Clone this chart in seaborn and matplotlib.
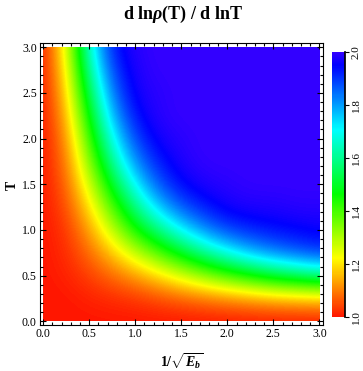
import matplotlib
matplotlib.use("Agg")
import matplotlib.pyplot as plt
import numpy as np
import seaborn as sns
from matplotlib.colors import ListedColormap, hsv_to_rgb
from matplotlib.patches import Rectangle
from matplotlib.ticker import MultipleLocator, FormatStrFormatter

# grid: x = 1/sqrt(E_b), T
x_vals = [0.0, 0.25, 0.5, 0.75, 1.0, 1.25, 1.5, 1.75, 2.0, 2.25, 2.5, 2.75, 3.0]
t_vals = [0.0, 0.25, 0.5, 0.75, 1.0, 1.25, 1.5, 1.75, 2.0, 2.25, 2.5, 2.75, 3.0]

# d ln rho / d ln T, one row per T (bottom to top), one column per x
slope = [
    [1.00, 1.00, 1.00, 1.00, 1.00, 1.00, 1.00, 1.00, 1.00, 1.00, 1.00, 1.00, 1.00],
    [1.00, 1.00, 1.01, 1.02, 1.03, 1.05, 1.07, 1.09, 1.11, 1.13, 1.15, 1.16, 1.17],
    [1.00, 1.01, 1.04, 1.08, 1.13, 1.19, 1.26, 1.33, 1.40, 1.46, 1.52, 1.56, 1.60],
    [1.00, 1.02, 1.08, 1.17, 1.28, 1.39, 1.50, 1.61, 1.70, 1.78, 1.83, 1.87, 1.90],
    [1.00, 1.03, 1.13, 1.28, 1.45, 1.59, 1.72, 1.82, 1.89, 1.92, 1.94, 1.95, 1.96],
    [1.00, 1.05, 1.19, 1.39, 1.59, 1.76, 1.87, 1.93, 1.97, 1.98, 1.98, 1.99, 1.99],
    [1.00, 1.07, 1.26, 1.50, 1.72, 1.87, 1.95, 1.98, 1.99, 2.00, 2.00, 2.00, 2.00],
    [1.00, 1.09, 1.33, 1.61, 1.82, 1.93, 1.98, 2.00, 2.00, 2.00, 2.00, 2.00, 2.00],
    [1.00, 1.11, 1.40, 1.70, 1.89, 1.97, 1.99, 2.00, 2.00, 2.00, 2.00, 2.00, 2.00],
    [1.00, 1.14, 1.47, 1.78, 1.94, 1.99, 2.00, 2.00, 2.00, 2.00, 2.00, 2.00, 2.00],
    [1.00, 1.17, 1.54, 1.84, 1.97, 1.99, 2.00, 2.00, 2.00, 2.00, 2.00, 2.00, 2.00],
    [1.00, 1.20, 1.61, 1.89, 1.98, 2.00, 2.00, 2.00, 2.00, 2.00, 2.00, 2.00, 2.00],
    [1.00, 1.23, 1.67, 1.93, 1.99, 2.00, 2.00, 2.00, 2.00, 2.00, 2.00, 2.00, 2.00],
]

cbar_ticks = [1.0, 1.2, 1.4, 1.6, 1.8, 2.0]

sns.set_theme(style="ticks")
plt.rcParams["font.family"] = ["Liberation Serif", "DejaVu Serif"]
plt.rcParams["mathtext.fontset"] = "custom"
plt.rcParams["mathtext.rm"] = "Liberation Serif:bold"
plt.rcParams["mathtext.it"] = "Liberation Serif:italic:bold"
plt.rcParams["mathtext.bf"] = "Liberation Serif:bold"
for key in ["text.color", "axes.labelcolor", "xtick.color", "ytick.color",
            "axes.edgecolor"]:
    plt.rcParams[key] = "black"

# hue running red -> yellow -> green -> cyan -> blue
hues = np.linspace(0.015, 0.7, 256)
hsv = np.stack([hues, np.ones_like(hues), np.ones_like(hues)], axis=1)
cmap = ListedColormap(hsv_to_rgb(hsv))

fig = plt.figure(figsize=(3.63, 3.71), dpi=100)
ax = fig.add_axes([0.109, 0.124, 0.781, 0.761])

dx = (x_vals[1] - x_vals[0]) / 2
dt = (t_vals[1] - t_vals[0]) / 2
im = ax.imshow(
    np.array(slope),
    origin="lower",
    extent=[x_vals[0] - dx, x_vals[-1] + dx, t_vals[0] - dt, t_vals[-1] + dt],
    cmap=cmap,
    vmin=1.0,
    vmax=2.0,
    interpolation="bicubic",
    interpolation_stage="data",
    aspect="auto",
)
im.set_clip_path(Rectangle((x_vals[0], t_vals[0]), x_vals[-1] - x_vals[0],
                           t_vals[-1] - t_vals[0], transform=ax.transData))

ax.set_xlim(-0.04, 3.04)
ax.set_ylim(-0.04, 3.05)
ax.xaxis.set_major_locator(MultipleLocator(0.5))
ax.yaxis.set_major_locator(MultipleLocator(0.5))
ax.xaxis.set_minor_locator(MultipleLocator(0.1))
ax.yaxis.set_minor_locator(MultipleLocator(0.1))
ax.xaxis.set_major_formatter(FormatStrFormatter("%.1f"))
ax.yaxis.set_major_formatter(FormatStrFormatter("%.1f"))
ax.tick_params(which="both", direction="in", top=True, right=True,
               color="black", labelcolor="black", width=0.8, labelsize=8.5, pad=2)
ax.tick_params(which="major", length=4)
ax.tick_params(which="minor", length=2)
for s in ax.spines.values():
    s.set_linewidth(0.8)
    s.set_color("black")

fig.text(0.5, 1 - 362 / 371, r"$1/\sqrt{E_b}$", ha="center", va="center",
         fontsize=10)
fig.text(12 / 363, 1 - 185 / 371, "T", ha="center", va="center",
         fontsize=10, fontweight="bold", rotation=90)
fig.text(0.503, 1 - 14 / 371, r"d ln$\rho$(T) / d lnT", ha="center",
         va="center", fontsize=13, fontweight="bold")

# colour legend
cax = fig.add_axes([332 / 363, 1 - 317 / 371, 13 / 363, 265 / 371])
cb = fig.colorbar(im, cax=cax, ticks=cbar_ticks)
cb.outline.set_visible(False)
cax.spines["right"].set_visible(True)
cax.spines["right"].set_color("black")
cax.tick_params(direction="out", length=3, width=0.8, labelsize=8, pad=2,
                color="black", labelcolor="black")
cax.set_yticklabels([f"{t:.1f}" for t in cbar_ticks], rotation=90, va="center")

fig.savefig("out.png", dpi=100)
